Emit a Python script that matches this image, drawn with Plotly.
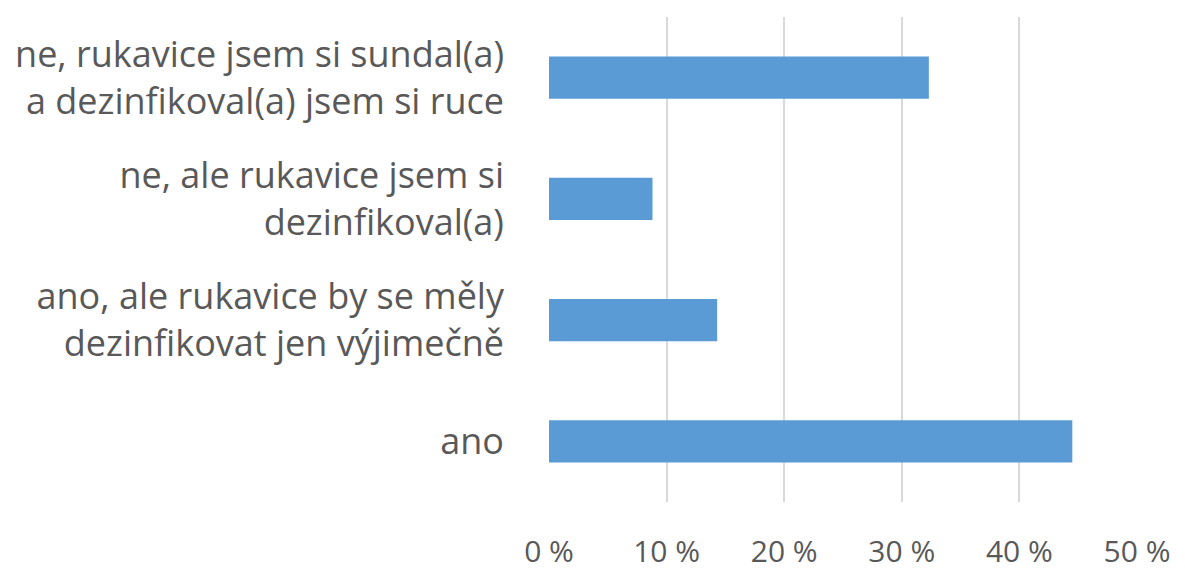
import plotly.graph_objects as go

# Survey answers (top to bottom) and share of respondents in percent
categories = [
    "ne, rukavice jsem si sundal(a)<br>a dezinfikoval(a) jsem si ruce",
    "ne, ale rukavice jsem si<br>dezinfikoval(a)",
    "ano, ale rukavice by se měly<br>dezinfikovat jen výjimečně",
    "ano",
]
values = [32.3, 8.8, 14.3, 44.5]
tick_values = [0, 10, 20, 30, 40, 50]
tick_labels = ["0 %", "10 %", "20 %", "30 %", "40 %", "50 %"]

text_color = "#595959"
font_family = "'Open Sans', sans-serif"

fig = go.Figure(
    go.Bar(
        x=values,
        y=categories,
        orientation="h",
        marker=dict(color="#5B9BD5", line=dict(width=0)),
        width=0.35,
    )
)

fig.update_layout(
    width=1185,
    height=572,
    margin=dict(l=549, r=48, t=17, b=70),
    paper_bgcolor="white",
    plot_bgcolor="white",
    showlegend=False,
    font=dict(family=font_family, color=text_color, size=36),
    xaxis=dict(
        range=[0, 50],
        tickvals=tick_values,
        ticktext=tick_labels,
        showgrid=True,
        gridcolor="#D9D9D9",
        gridwidth=1.5,
        zeroline=False,
        showline=False,
        ticks="",
        automargin=False,
        ticklabelstandoff=29,
        tickfont=dict(size=30, color=text_color),
        fixedrange=True,
    ),
    yaxis=dict(
        autorange="reversed",
        showgrid=False,
        zeroline=False,
        showline=False,
        ticks="",
        automargin=False,
        ticklabelstandoff=44,
        tickfont=dict(size=36, color=text_color),
        fixedrange=True,
    ),
)

fig.write_html("out.html")
